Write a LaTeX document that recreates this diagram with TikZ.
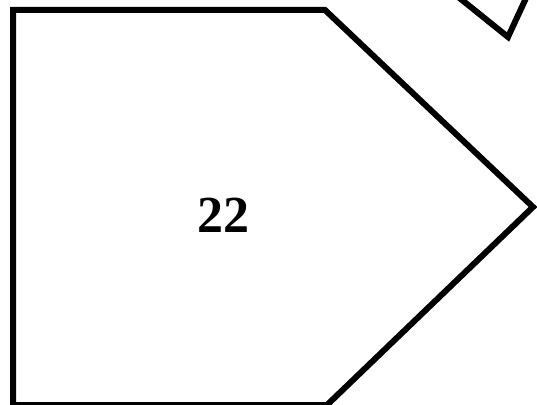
\documentclass[tikz,border=0pt]{standalone}
\usepackage{fontspec}
\setmainfont{Liberation Serif}
\begin{document}
\begin{tikzpicture}[x=1pt,y=-1pt,
  outline/.style={draw=black,line width=6pt,line join=miter},
  label/.style={font=\bfseries\fontsize{52}{52}\selectfont,inner sep=0pt}]
\useasboundingbox (0,0) rectangle (537,404);
\begin{scope}
\clip (0,0) rectangle (537,404);
\draw[outline] (13,10) -- (325,10) -- (533,207) -- (327,405) -- (13,405) -- cycle;
\draw[outline] (457,-4) -- (508,37) -- (527,-4);
\end{scope}
\node[label] (n22) at (223,215) {22};
\end{tikzpicture}
\end{document}
